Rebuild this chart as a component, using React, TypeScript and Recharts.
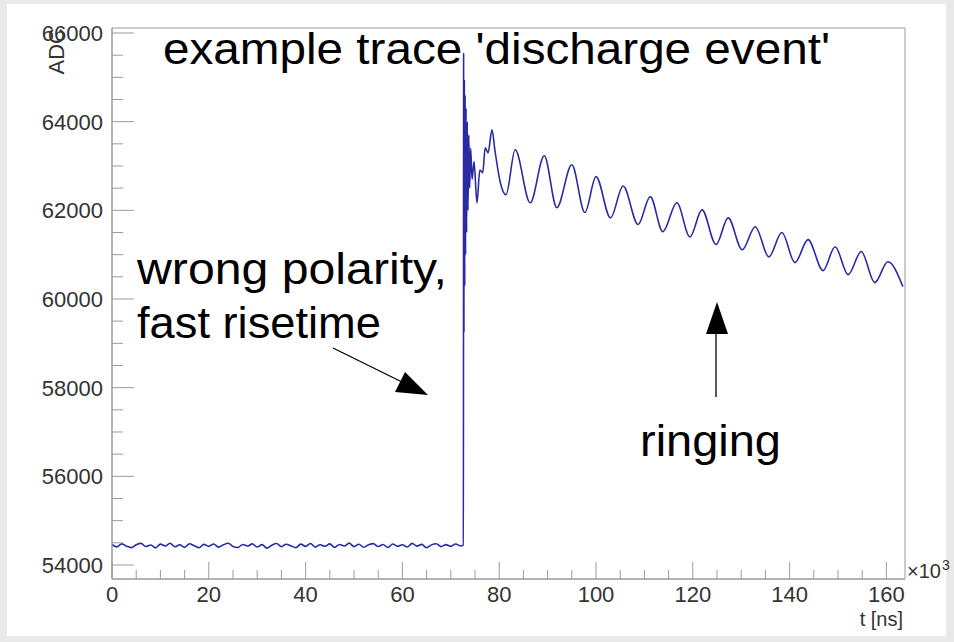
import React from "react";
import { LineChart, Line, XAxis, YAxis, ReferenceArea } from "recharts";

// flat pre-trigger baseline, [t (x10^3 ns), ADC]
const baseline: [number, number][] = [
  [0, 54462], [1, 54408], [2, 54476], [3, 54425], [4, 54392], [5, 54458], [6, 54488], [7, 54416],
  [8, 54451], [9, 54385], [10, 54470], [11, 54430], [12, 54492], [13, 54410], [14, 54457], [15, 54398],
  [16, 54479], [17, 54433], [18, 54389], [19, 54465], [20, 54420], [21, 54473], [22, 54402], [23, 54454],
  [24, 54490], [25, 54418], [26, 54395], [27, 54461], [28, 54427], [29, 54476], [30, 54405], [31, 54459],
  [32, 54380], [33, 54447], [34, 54484], [35, 54413], [36, 54468], [37, 54431], [38, 54391], [39, 54471],
  [40, 54419], [41, 54486], [42, 54403], [43, 54457], [44, 54422], [45, 54477], [46, 54397], [47, 54463],
  [48, 54429], [49, 54494], [50, 54415], [51, 54467], [52, 54400], [53, 54455], [54, 54483], [55, 54417],
  [56, 54462], [57, 54394], [58, 54472], [59, 54423], [60, 54458], [61, 54406], [62, 54487], [63, 54426],
  [64, 54465], [65, 54388], [66, 54454], [67, 54480], [68, 54414], [69, 54460], [70, 54421], [71, 54475],
  [72, 54430], [72.6, 54448],
];

// discharge spike: fast rise, then heavy oscillation
const spike: [number, number][] = [
  [72.65, 65550], [72.72, 59250], [72.8, 64950], [72.88, 60300], [72.96, 64600], [73.05, 61000],
  [73.15, 64300], [73.27, 61500], [73.4, 64000], [73.55, 62000], [73.72, 63700], [73.9, 62500],
  [74.1, 63400], [74.4, 62700], [74.8, 63100],
];

// ringing afterwards, peaks and troughs
const ringing: [number, number][] = [
  [75.4, 62170], [76.0, 62910], [76.6, 62850], [77.1, 63410], [77.7, 63300], [78.5, 63815],
  [79.1, 63365], [80.2, 62640], [81.4, 62350], [83.3, 63365], [86.4, 62170], [89.3, 63230],
  [91.9, 62060], [95.0, 63030], [97.7, 61950], [100.0, 62760], [103.0, 61830], [105.6, 62550],
  [108.7, 61680], [111.2, 62310], [113.8, 61520], [116.7, 62170], [119.4, 61400], [121.9, 62010],
  [124.8, 61230], [127.3, 61830], [130.2, 61110], [132.9, 61630], [135.7, 60950], [138.4, 61500],
  [141.1, 60820], [143.8, 61340], [146.9, 60640], [149.4, 61180], [152.1, 60550], [154.8, 61070],
  [157.6, 60370], [160.3, 60840], [163.4, 60280],
];

const xTicks = [
  0, 5, 10, 15, 20, 25, 30, 35, 40, 45, 50, 55, 60, 65, 70, 75, 80,
  85, 90, 95, 100, 105, 110, 115, 120, 125, 130, 135, 140, 145, 150, 155, 160,
];
const xLabels = [0, 20, 40, 60, 80, 100, 120, 140, 160];
const yTicks = [
  54000, 54500, 55000, 55500, 56000, 56500, 57000, 57500, 58000, 58500, 59000, 59500,
  60000, 60500, 61000, 61500, 62000, 62500, 63000, 63500, 64000, 64500, 65000, 65500, 66000,
];
const yLabels = [54000, 56000, 58000, 60000, 62000, 64000, 66000];

const X_DOMAIN: [number, number] = [0, 163.84];
const Y_DOMAIN: [number, number] = [53684, 66113];

const data = [...baseline, ...spike, ...ringing].map(([t, adc]) => ({ t, adc }));

const FONT = "'Liberation Sans', Arial, Helvetica, sans-serif";
const AXIS_GRAY = "#9a9a9a";
const LABEL = "#333333";

const YTick = (props: any) => {
  const { x, y, payload } = props;
  const major = yLabels.includes(payload.value);
  const axisX = x + 8;
  return (
    <g>
      <line x1={axisX} x2={axisX + (major ? 22 : 11)} y1={y} y2={y} stroke={AXIS_GRAY} />
      {major && (
        <text x={x - 1} y={y} dy="0.36em" textAnchor="end" fontSize={22} fill={LABEL} fontFamily={FONT}>
          {payload.value}
        </text>
      )}
    </g>
  );
};

const XTick = (props: any) => {
  const { x, y, payload } = props;
  const major = xLabels.includes(payload.value);
  const axisY = y - 6;
  return (
    <g>
      <line x1={x} x2={x} y1={axisY} y2={axisY - (major ? 17 : 9)} stroke={AXIS_GRAY} />
      {major && (
        <text x={x} y={axisY + 23} textAnchor="middle" fontSize={22} fill={LABEL} fontFamily={FONT}>
          {payload.value}
        </text>
      )}
    </g>
  );
};

export default function App() {
  return (
    <div style={{ position: "relative", width: 954, height: 642, background: "#e9e9e9", overflow: "hidden" }}>
      <style>{`body{margin:0}`}</style>
      <div style={{ position: "absolute", left: 7, top: 4, width: 939, height: 632, background: "#ffffff" }} />
      <div style={{ position: "absolute", left: 0, top: 0 }}>
        <LineChart width={954} height={642} data={data} margin={{ top: 28, right: 49, bottom: 0, left: 0 }}>
          <XAxis
            dataKey="t"
            type="number"
            domain={X_DOMAIN}
            allowDataOverflow
            ticks={xTicks}
            interval={0}
            tick={<XTick />}
            tickSize={0}
            tickMargin={6}
            height={63}
            axisLine={{ stroke: AXIS_GRAY }}
          />
          <YAxis
            type="number"
            domain={Y_DOMAIN}
            allowDataOverflow
            ticks={yTicks}
            interval={0}
            tick={<YTick />}
            tickSize={0}
            tickMargin={8}
            width={112}
            axisLine={{ stroke: AXIS_GRAY }}
          />
          <ReferenceArea
            x1={X_DOMAIN[0]}
            x2={X_DOMAIN[1]}
            y1={Y_DOMAIN[0]}
            y2={Y_DOMAIN[1]}
            fill="none"
            stroke={AXIS_GRAY}
            strokeWidth={1}
          />
          <Line
            type="monotone"
            dataKey="adc"
            stroke="#2a2aa4"
            strokeWidth={1.6}
            dot={false}
            isAnimationActive={false}
          />
        </LineChart>
      </div>
      <svg
        width={954}
        height={642}
        style={{ position: "absolute", left: 0, top: 0, pointerEvents: "none" }}
        fontFamily={FONT}
      >
        <text x={56} y={28} transform="rotate(-90 56 28)" textAnchor="end" dy="0.36em" fontSize={22} fill={LABEL}>
          ADC
        </text>
        <text x={903} y={626} textAnchor="end" fontSize={20} fill={LABEL}>
          t [ns]
        </text>
        <text x={907} y={578} fontSize={20} fill={LABEL}>
          ×10
        </text>
        <text x={942} y={570} fontSize={14} fill={LABEL}>
          3
        </text>

        <text x={163} y={64} fontSize={45} textLength={667} lengthAdjust="spacingAndGlyphs" fill="#000">
          example trace 'discharge event'
        </text>
        <text x={137} y={284} fontSize={45} textLength={310} lengthAdjust="spacingAndGlyphs" fill="#000">
          wrong polarity,
        </text>
        <text x={137} y={338} fontSize={45} textLength={244} lengthAdjust="spacingAndGlyphs" fill="#000">
          fast risetime
        </text>
        <text x={640} y={456} fontSize={45} textLength={141} lengthAdjust="spacingAndGlyphs" fill="#000">
          ringing
        </text>

        <line x1={333} y1={348} x2={402} y2={382} stroke="#000" strokeWidth={1.3} />
        <polygon points="428,395 395,392 405,372" fill="#000" />
        <line x1={716} y1={397} x2={716} y2={332} stroke="#000" strokeWidth={1.3} />
        <polygon points="717,302 706,334 728,334" fill="#000" />
      </svg>
    </div>
  );
}
